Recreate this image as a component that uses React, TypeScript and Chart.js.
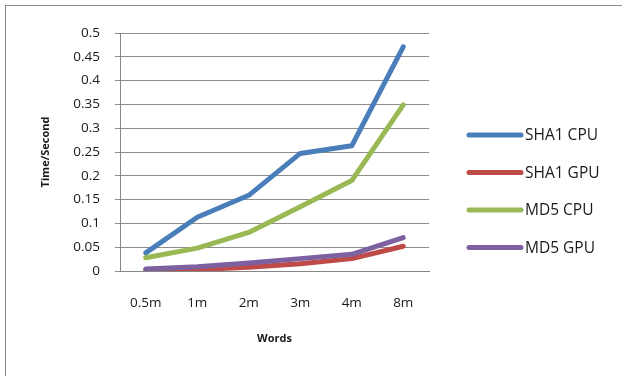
import React, { useEffect, useRef } from "react";
import { Chart, registerables } from "chart.js";

Chart.register(...registerables);

const categories = ["0.5m", "1m", "2m", "3m", "4m", "8m"];
const sha1Cpu = [0.038, 0.113, 0.159, 0.247, 0.263, 0.471];
const sha1Gpu = [0.002, 0.003, 0.008, 0.015, 0.026, 0.052];
const md5Cpu = [0.028, 0.048, 0.081, 0.135, 0.19, 0.349];
const md5Gpu = [0.004, 0.009, 0.017, 0.026, 0.035, 0.07];
const seriesNames = ["SHA1 CPU", "SHA1 GPU", "MD5 CPU", "MD5 GPU"];
const seriesColors = ["#4A7EBB", "#BE4B48", "#98B954", "#7D60A0"];
const yTitle = "Time/Second";
const xTitle = "Words";

const frameAndLegend = {
  id: "frameAndLegend",
  beforeDraw(chart: any) {
    const ctx = chart.ctx;
    ctx.save();
    ctx.fillStyle = "#ffffff";
    ctx.fillRect(0, 0, chart.width, chart.height);
    ctx.strokeStyle = "#8a8a8a";
    ctx.lineWidth = 1;
    ctx.strokeRect(5.5, 5.5, chart.width + 10, chart.height + 10);
    ctx.restore();
  },
  afterDraw(chart: any) {
    const ctx = chart.ctx;
    ctx.save();
    const rows = [135, 172.5, 210, 247.5];
    chart.data.datasets.forEach((ds: any, i: number) => {
      const y = rows[i];
      ctx.strokeStyle = ds.borderColor;
      ctx.lineWidth = 5;
      ctx.lineCap = "round";
      ctx.beginPath();
      ctx.moveTo(469, y);
      ctx.lineTo(521, y);
      ctx.stroke();
      ctx.fillStyle = "#1a1a1a";
      ctx.font = "15.5px 'Open Sans'";
      ctx.textBaseline = "middle";
      ctx.textAlign = "left";
      ctx.fillText(ds.label, 525, y + 1);
    });
    ctx.restore();
  },
};

export default function App() {
  const ref = useRef<HTMLCanvasElement>(null);
  useEffect(() => {
    document.body.style.margin = "0";
    const values = [sha1Cpu, sha1Gpu, md5Cpu, md5Gpu];
    const chart = new Chart(ref.current!, {
      type: "line",
      data: {
        labels: categories,
        datasets: values.map((v, i) => ({
          label: seriesNames[i],
          data: v,
          borderColor: seriesColors[i],
          backgroundColor: seriesColors[i],
          borderWidth: 5,
          pointRadius: 0,
          tension: 0,
          borderCapStyle: "round" as const,
          borderJoinStyle: "round" as const,
          order: 4 - i,
        })),
      },
      options: {
        responsive: false,
        animation: false,
        layout: { padding: { left: 30, right: 193, top: 33, bottom: 25 } },
        plugins: { legend: { display: false }, tooltip: { enabled: false } },
        scales: {
          x: {
            offset: true,
            grid: { display: false, drawTicks: false },
            border: { display: true, color: "#868686", width: 1 },
            ticks: {
              padding: 24,
              color: "#1a1a1a",
              font: { family: "'Open Sans'", size: 13.5 },
            },
            title: {
              display: true,
              text: xTitle,
              color: "#1a1a1a",
              font: { family: "'Open Sans'", size: 11, weight: "bold" },
              padding: { top: 0, bottom: 6 },
            },
            afterFit: (s: any) => {
              s.height = 80;
            },
          },
          y: {
            min: 0,
            max: 0.5,
            grid: { color: "#8c8c8c", lineWidth: 1, tickLength: 5 },
            border: { display: true, color: "#868686", width: 1 },
            ticks: {
              stepSize: 0.05,
              padding: 15,
              color: "#1a1a1a",
              font: { family: "'Open Sans'", size: 13.5 },
              callback: (v: any) => String(Math.round(Number(v) * 100) / 100),
            },
            title: {
              display: true,
              text: yTitle,
              color: "#1a1a1a",
              font: { family: "'Open Sans'", size: 11, weight: "bold" },
              padding: { top: 9, bottom: 0 },
            },
            afterFit: (s: any) => {
              s.width = 90;
            },
          },
        },
      },
      plugins: [frameAndLegend],
    });
    return () => chart.destroy();
  }, []);
  return (
    <div style={{ width: 622, height: 376 }}>
      <canvas ref={ref} width={622} height={376} />
    </div>
  );
}
